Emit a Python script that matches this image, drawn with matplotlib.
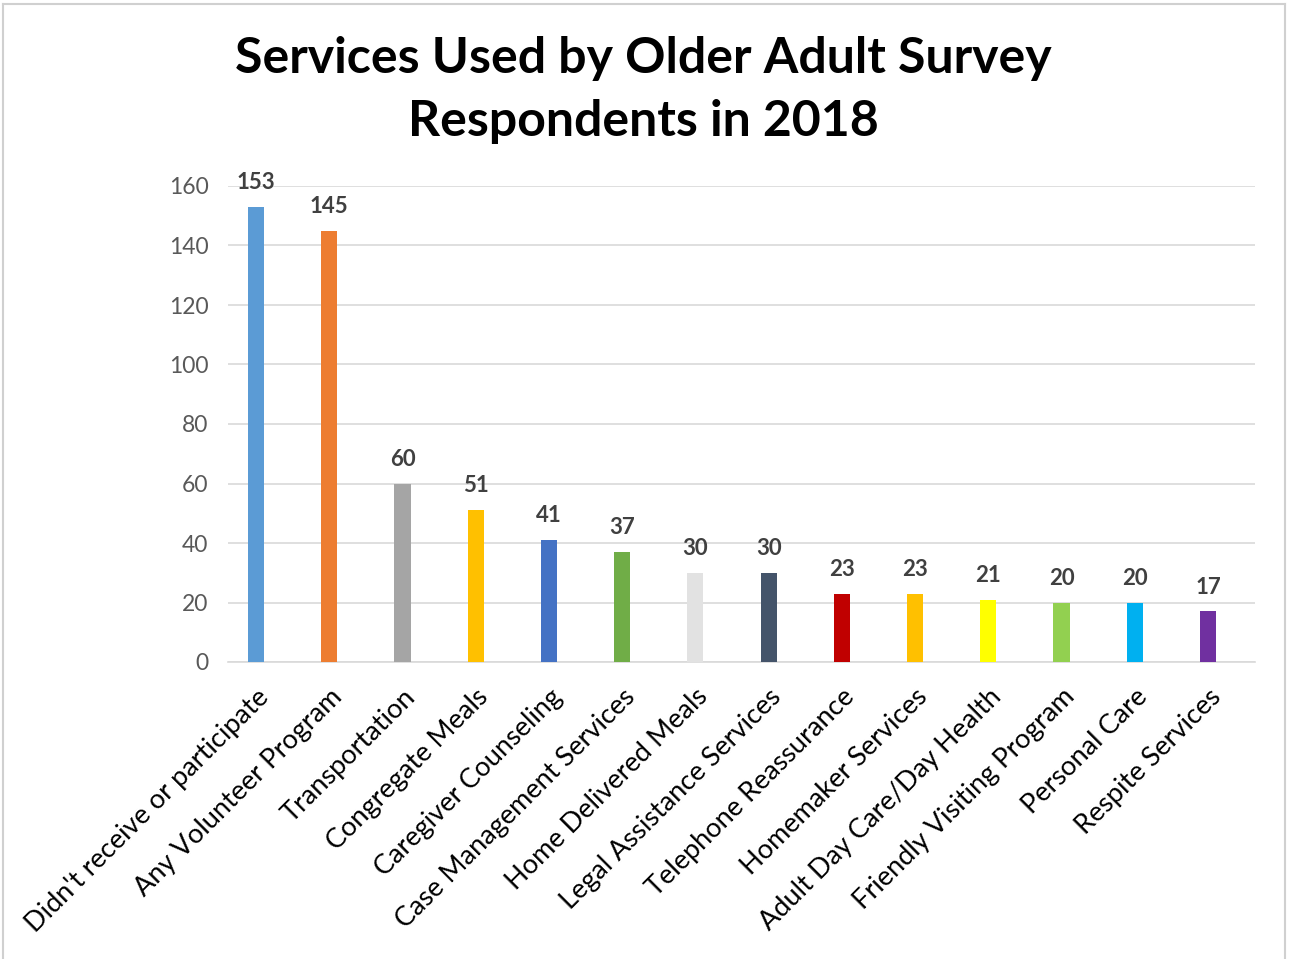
import matplotlib
matplotlib.use("Agg")
import matplotlib.pyplot as plt
from matplotlib.lines import Line2D

categories = ["Didn't receive or participate", "Any Volunteer Program", "Transportation",
              "Congregate Meals", "Caregiver Counseling", "Case Management Services",
              "Home Delivered Meals", "Legal Assistance Services", "Telephone Reassurance",
              "Homemaker Services", "Adult Day Care/Day Health", "Friendly Visiting Program",
              "Personal Care", "Respite Services"]
values = [153, 145, 60, 51, 41, 37, 30, 30, 23, 23, 21, 20, 20, 17]
colors = ["#5B9BD5", "#ED7D31", "#A5A5A5", "#FFC000", "#4472C4", "#70AD47", "#E2E2E2",
          "#44546A", "#C00000", "#FFC000", "#FFFF00", "#92D050", "#00B0F0", "#7030A0"]
yticks = [0, 20, 40, 60, 80, 100, 120, 140, 160]
title = "Services Used by Older Adult Survey\nRespondents in 2018"

plt.rcParams['font.family'] = ['Lato', 'DejaVu Sans']

fig = plt.figure(figsize=(12.9, 9.59), dpi=100)
ax = fig.add_axes([228/1290, 1-662/959, (1255-228)/1290, (662-186)/959])

x = list(range(len(categories)))
ax.bar(x, values, width=0.22, color=colors, zorder=3)
step = (1208 - 256) / 13
ax.set_xlim(-(256 - 228) / step, 13 + (1255 - 1208) / step)
ax.set_ylim(0, 160)
ax.set_yticks(yticks)
ax.yaxis.grid(True, color="#D9D9D9", linewidth=1.2, zorder=0)
for s in ["top", "right", "left"]:
    ax.spines[s].set_visible(False)
ax.spines["bottom"].set_color("#D9D9D9")
ax.spines["bottom"].set_linewidth(1.2)
ax.tick_params(axis="both", length=0)
ax.tick_params(axis="y", labelsize=16.5, labelcolor="#595959", pad=14)
ax.set_xticks(x)
ax.set_xticklabels(categories, rotation=45, ha="right", va="top",
                   rotation_mode="anchor", fontsize=19.5, color="#000000")
ax.tick_params(axis="x", pad=16)

for xi, v in zip(x, values):
    ax.annotate(str(v), (xi, v), xytext=(0, 10), textcoords="offset points",
                ha="center", va="bottom", fontsize=16, fontweight="bold", color="#404040")

fig.text(643/1290, 1-90/959, title, ha="center", va="center", fontsize=36,
         fontweight="bold", color="#000000", linespacing=1.5)

# outer frame
fig.add_artist(Line2D([3/1290, 3/1290], [0, 1-4/959], color="#D0D0D0", lw=1.5))
fig.add_artist(Line2D([1285/1290, 1285/1290], [0, 1-4/959], color="#D0D0D0", lw=1.5))
fig.add_artist(Line2D([3/1290, 1285/1290], [1-4/959, 1-4/959], color="#D0D0D0", lw=1.5))

fig.savefig("out.png", dpi=100)
